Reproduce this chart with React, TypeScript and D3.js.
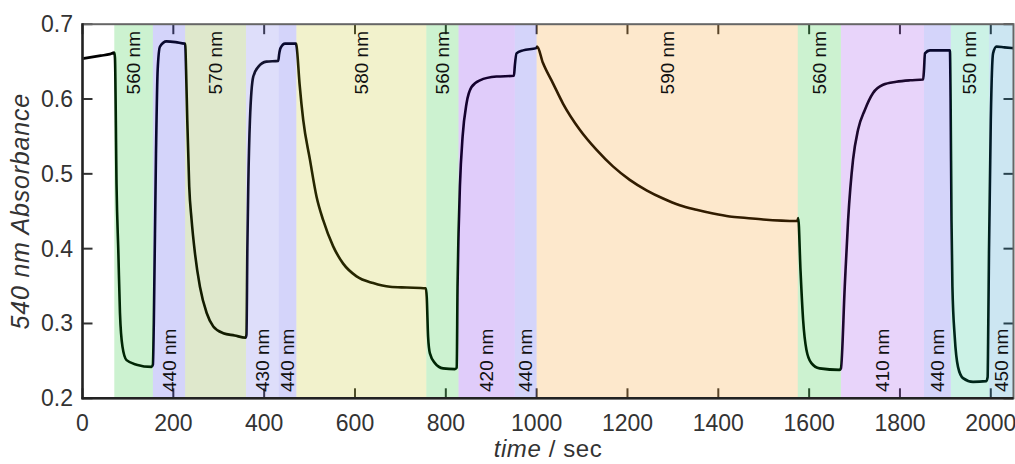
import React from "react";
import * as d3 from "d3";

// ---- data ----
const timeSec: number[] = [
  0, 20, 40, 60, 70, 71.5, 75, 79, 82.5, 88, 97, 119, 152,
  155, 157, 161.8, 165.5, 170.6, 185, 205, 225,
  226, 228, 230.7, 235, 240, 247.6, 258.6, 273.4, 288, 310, 335, 359,
  361, 363, 365, 368.7, 376, 387, 405, 431, 433, 436, 446, 470,
  471.5, 478, 486, 500.8, 515.5, 530, 552, 574, 603.5, 640, 677, 714, 756,
  758, 761, 765, 776, 794, 820, 824,
  825.8, 828, 831, 837, 845.6, 856.6, 875, 911.7, 950,
  952, 955.7, 970, 999,
  1001, 1014, 1036, 1058, 1095, 1132, 1168, 1205, 1242, 1278.5, 1315, 1352, 1388.5, 1425, 1462, 1498.6, 1574,
  1576, 1581, 1586.7, 1594, 1605, 1623, 1667, 1670,
  1678.4, 1685.8, 1696.7, 1707.7, 1722.4, 1740.8, 1762.8, 1792, 1821.5, 1851,
  1853, 1855, 1866, 1910,
  1911.5, 1913.5, 1915.5, 1920.6, 1927.8, 1938.8, 1961, 1990, 1993,
  1994.5, 1996, 2000, 2005, 2012.5, 2030, 2050,
];
const absorbance: number[] = [
  0.654, 0.656, 0.658, 0.66, 0.662, 0.655, 0.483, 0.394, 0.314, 0.269, 0.251, 0.245, 0.242,
  0.245, 0.3, 0.527, 0.639, 0.67, 0.677, 0.676, 0.674,
  0.674, 0.64, 0.572, 0.483, 0.44, 0.394, 0.349, 0.314, 0.296, 0.287, 0.284, 0.281,
  0.285, 0.4, 0.483, 0.572, 0.63, 0.643, 0.65, 0.651, 0.66, 0.668, 0.674, 0.674,
  0.67, 0.62, 0.572, 0.519, 0.469, 0.438, 0.403, 0.38, 0.363, 0.354, 0.349, 0.348, 0.347,
  0.335, 0.282, 0.26, 0.247, 0.24, 0.239, 0.241,
  0.349, 0.42, 0.483, 0.55, 0.594, 0.616, 0.625, 0.63, 0.631,
  0.645, 0.661, 0.665, 0.668,
  0.67, 0.648, 0.621, 0.594, 0.559, 0.532, 0.51, 0.492, 0.478, 0.467, 0.458, 0.452, 0.447, 0.443, 0.441, 0.439, 0.437,
  0.441, 0.371, 0.305, 0.265, 0.247, 0.24, 0.238, 0.24,
  0.349, 0.438, 0.519, 0.559, 0.585, 0.608, 0.619, 0.623, 0.625, 0.626,
  0.64, 0.661, 0.665, 0.665,
  0.6, 0.438, 0.349, 0.282, 0.242, 0.227, 0.222, 0.223, 0.228,
  0.3, 0.394, 0.572, 0.661, 0.67, 0.669, 0.668,
];

const bandStart: number[] = [70, 155, 226, 360, 432, 471, 757, 828, 952, 1000, 1575, 1670, 1853, 1912, 1996];
const bandEnd: number[] = [155, 226, 360, 432, 471, 757, 828, 952, 1000, 1575, 1670, 1853, 1912, 1996, 2050];
const bandLabel: string[] = [
  "560 nm", "440 nm", "570 nm", "430 nm", "440 nm", "580 nm", "560 nm", "420 nm",
  "440 nm", "590 nm", "560 nm", "410 nm", "440 nm", "550 nm", "450 nm",
];
// styling for the bands (kept apart from the data)
const bandColor: string[] = [
  "rgb(0,190,20)", "rgb(40,40,230)", "rgb(95,140,0)", "rgb(90,90,230)", "rgb(40,40,230)",
  "rgb(190,190,0)", "rgb(0,190,20)", "rgb(100,0,230)", "rgb(40,40,230)", "rgb(245,140,0)",
  "rgb(0,190,20)", "rgb(140,40,230)", "rgb(40,40,230)", "rgb(0,190,130)", "rgb(0,130,190)",
];
const labelAtTop: boolean[] = [
  true, false, true, false, false, true, true, false, false, true, true, false, false, true, false,
];

const xTicks: number[] = [0, 200, 400, 600, 800, 1000, 1200, 1400, 1600, 1800, 2000];
const yTicks: number[] = [0.2, 0.3, 0.4, 0.5, 0.6, 0.7];

// ---- layout ----
const W = 1015;
const H = 464;
const L = 82.5;
const R = 1013.5;
const T = 24.2;
const B = 398.3;
const FONT = "'Liberation Sans', Arial, Helvetica, sans-serif";

export default function App() {
  const x = d3.scaleLinear().domain([0, 2050]).range([L, R]);
  const y = d3.scaleLinear().domain([0.2, 0.7]).range([B, T]);
  const pts: [number, number][] = timeSec.map((t, i) => [t, absorbance[i]]);
  const line = d3
    .line<[number, number]>()
    .x((d) => x(d[0]))
    .y((d) => y(d[1]))
    .curve(d3.curveMonotoneX);
  const tickLen = 10;

  return (
    <svg
      width={W}
      height={H}
      style={{ position: "absolute", left: 0, top: 0, background: "#fff" }}
      fontFamily={FONT}
    >
      {/* ticks (under bands) */}
      {xTicks.map((t) => (
        <g key={"xt" + t} stroke="#333" strokeWidth={2}>
          <line x1={x(t)} x2={x(t)} y1={B} y2={B - tickLen} />
          <line x1={x(t)} x2={x(t)} y1={T} y2={T + tickLen} />
        </g>
      ))}
      {yTicks.map((v) => (
        <g key={"yt" + v} stroke="#333" strokeWidth={2}>
          <line x1={L} x2={L + tickLen} y1={y(v)} y2={y(v)} />
          <line x1={R} x2={R - tickLen} y1={y(v)} y2={y(v)} />
        </g>
      ))}

      {/* trace */}
      <path d={line(pts) || ""} fill="none" stroke="#000" strokeWidth={2.6} strokeLinejoin="round" />

      {/* bands on top, translucent */}
      {bandStart.map((s, i) => (
        <rect
          key={"b" + i}
          x={x(s)}
          y={T}
          width={x(bandEnd[i]) - x(s)}
          height={B - T}
          fill={bandColor[i]}
          fillOpacity={0.2}
        />
      ))}

      {/* band labels */}
      {bandStart.map((s, i) => {
        const cx = (x(s) + x(bandEnd[i])) / 2;
        const top = labelAtTop[i];
        const yy = top ? 31 : 392;
        return (
          <text
            key={"l" + i}
            transform={`translate(${cx},${yy}) rotate(-90)`}
            textAnchor={top ? "end" : "start"}
            dominantBaseline="central"
            fontSize={19}
            fill="#111"
          >
            {bandLabel[i]}
          </text>
        );
      })}

      {/* frame */}
      <rect x={L} y={T} width={R - L} height={B - T} fill="none" stroke="#666" strokeWidth={2} />
      <line x1={L} x2={L} y1={T - 1} y2={B + 1} stroke="#222" strokeWidth={2.4} />
      <line x1={L - 1} x2={R} y1={B} y2={B} stroke="#222" strokeWidth={2.4} />

      {/* tick labels */}
      {xTicks.map((t) => (
        <text key={"xl" + t} x={x(t)} y={431} textAnchor="middle" fontSize={23} fill="#333">
          {t}
        </text>
      ))}
      {yTicks.map((v) => (
        <text
          key={"yl" + v}
          x={73}
          y={y(v)}
          textAnchor="end"
          dominantBaseline="central"
          fontSize={23}
          fill="#333"
        >
          {v.toFixed(1)}
        </text>
      ))}

      {/* axis titles */}
      <text x={(L + R) / 2} y={457} textAnchor="middle" fontSize={24} letterSpacing={0.6} fill="#333">
        <tspan fontStyle="italic">time</tspan>
        <tspan> / sec</tspan>
      </text>
      <text
        transform={`translate(29,${(T + B) / 2}) rotate(-90)`}
        textAnchor="middle"
        fontSize={25}
        letterSpacing={0.8}
        fill="#333"
        fontStyle="italic"
      >
        540 nm Absorbance
      </text>
    </svg>
  );
}
